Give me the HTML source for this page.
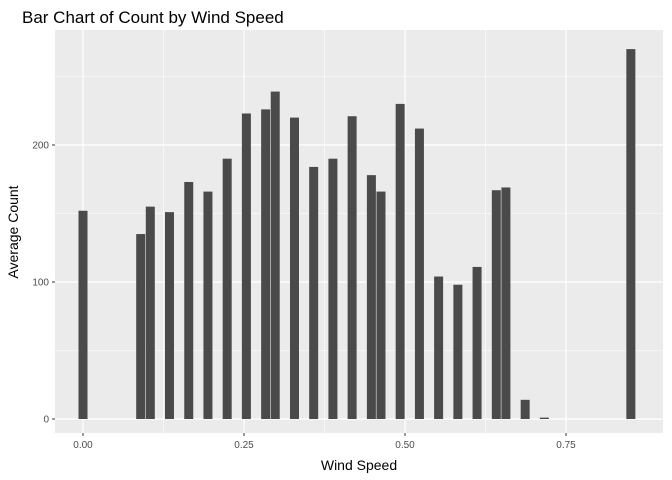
<!DOCTYPE html>
<html><head><meta charset="utf-8"><style>
body{margin:0;background:#fff;}
svg{display:block;font-family:"Liberation Sans",Arial,sans-serif;}
</style></head><body>
<svg id="chart" width="672" height="480">
<text x="22" y="23" font-size="17" fill="#000">Bar Chart of Count by Wind Speed</text>
<rect x="55" y="30" width="608" height="403" fill="#ebebeb"/>
<g id="grid"></g><g id="bars"></g><g id="axes"></g>
<text x="359" y="470" font-size="14" text-anchor="middle">Wind Speed</text>
<text transform="translate(18,232) rotate(-90)" font-size="14" text-anchor="middle">Average Count</text>
</svg>
<script>
const windSpeeds=[0,0.0896,0.1045,0.1343,0.1642,0.194,0.2239,0.2537,0.2836,0.2985,0.3284,0.3582,0.3881,0.4179,0.4478,0.4627,0.4925,0.5224,0.5522,0.5821,0.6119,0.6418,0.6567,0.6866,0.7164,0.8507];
const counts=[152,135,155,151,173,166,190,223,226,239,220,184,190,221,178,166,230,212,104,98,111,167,169,14,1,270];
const xTicks=[0,0.25,0.5,0.75];
const xTickLabels=["0.00","0.25","0.50","0.75"];
const yTicks=[0,100,200];
const NS="http://www.w3.org/2000/svg";
const x=v=>83+v*644, y=v=>419-v*1.37;
function mk(t,a,p){const e=document.createElementNS(NS,t);for(const k in a)e.setAttribute(k,a[k]);p.appendChild(e);return e;}
const g=document.getElementById('grid'),b=document.getElementById('bars'),ax=document.getElementById('axes');
[0.125,0.375,0.625].forEach(v=>{const l=mk('line',{x1:x(v),x2:x(v),y1:30,y2:433,stroke:'#fff','stroke-width':0.6},g);

});
[50,150,250].forEach(v=>{const l=mk('line',{x1:55,x2:663,y1:y(v),y2:y(v),stroke:'#fff','stroke-width':0.6},g);

});
xTicks.forEach((v,i)=>{const l=mk('line',{x1:x(v),x2:x(v),y1:30,y2:433,stroke:'#fff','stroke-width':1.2},g);


mk('line',{x1:x(v),x2:x(v),y1:433,y2:436,stroke:'#333'},ax);
const t=mk('text',{x:x(v),y:448,'font-size':10,'text-anchor':'middle',fill:'#4d4d4d'},ax);t.textContent=xTickLabels[i];

});
yTicks.forEach(v=>{const l=mk('line',{x1:55,x2:663,y1:y(v),y2:y(v),stroke:'#fff','stroke-width':1.2},g);


mk('line',{x1:52,x2:55,y1:y(v),y2:y(v),stroke:'#333'},ax);
const t=mk('text',{x:49,y:y(v)+3.5,'font-size':10,'text-anchor':'end',fill:'#4d4d4d'},ax);t.textContent=v;

});
windSpeeds.forEach((w,i)=>{const r=mk('rect',{x:x(w)-4.5,y:y(counts[i]),width:9,height:y(0)-y(counts[i]),fill:'#4a4a4a'},b);

});
</script>
</body></html>
